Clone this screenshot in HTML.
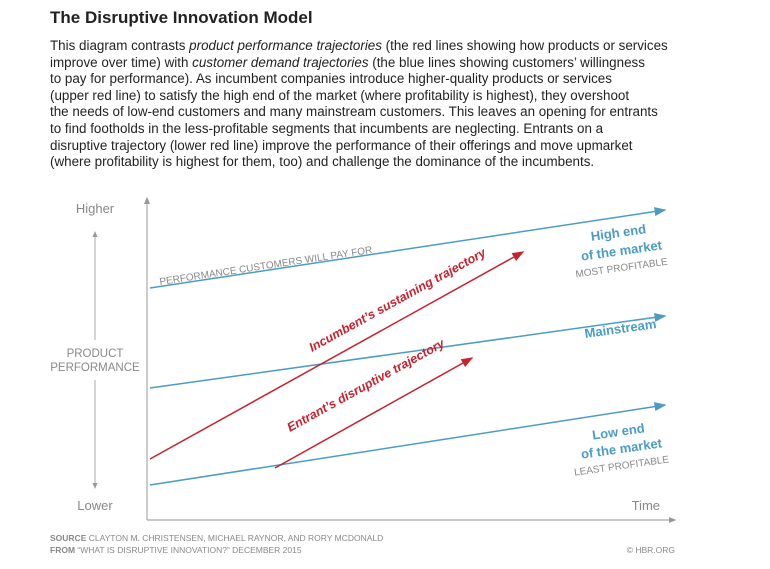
<!DOCTYPE html>
<html><head><meta charset="utf-8"><style>
body{margin:0;width:770px;height:569px;background:#fff;overflow:hidden;font-family:"Liberation Sans",sans-serif;}
h1{position:absolute;left:50px;top:8px;margin:0;font-size:17px;font-weight:bold;color:#222;}
p{position:absolute;left:50px;top:38px;margin:0;font-size:13.4px;line-height:16.6px;color:#222;white-space:nowrap;}
svg{position:absolute;left:0;top:0}
</style></head><body>
<h1>The Disruptive Innovation Model</h1>
<p>This diagram contrasts <i>product performance trajectories</i> (the red lines showing how products or services<br>improve over time) with <i>customer demand trajectories</i> (the blue lines showing customers’ willingness<br>to pay for performance). As incumbent companies introduce higher-quality products or services<br>(upper red line) to satisfy the high end of the market (where profitability is highest), they overshoot<br>the needs of low-end customers and many mainstream customers. This leaves an opening for entrants<br>to find footholds in the less-profitable segments that incumbents are neglecting. Entrants on a<br>disruptive trajectory (lower red line) improve the performance of their offerings and move upmarket<br>(where profitability is highest for them, too) and challenge the dominance of the incumbents.</p>
<svg width="770" height="569" font-family="Liberation Sans, sans-serif">
<defs>
<marker id="b" markerWidth="8" markerHeight="6" refX="7" refY="3" orient="auto"><path d="M0,0L8,3L0,6z" fill="#4a9cc4"/></marker>
<marker id="r" markerWidth="8" markerHeight="6" refX="7" refY="3" orient="auto"><path d="M0,0L8,3L0,6z" fill="#c8202c"/></marker>
<marker id="g" markerWidth="6" markerHeight="5" refX="5" refY="2.5" orient="auto"><path d="M0,0L6,2.5L0,5z" fill="#999"/></marker>
</defs>
<line x1="147" y1="520" x2="147" y2="198" stroke="#aaa" stroke-width="1.2" marker-end="url(#g)"/>
<line x1="147" y1="520" x2="675" y2="520" stroke="#aaa" stroke-width="1.2" marker-end="url(#g)"/>
<line x1="95" y1="340" x2="95" y2="232" stroke="#aaa" marker-end="url(#g)"/>
<line x1="95" y1="380" x2="95" y2="488" stroke="#aaa" marker-end="url(#g)"/>
<text x="95" y="213" font-size="13" fill="#888" text-anchor="middle">Higher</text>
<text x="95" y="510" font-size="13" fill="#888" text-anchor="middle">Lower</text>
<text x="95" y="357" font-size="11.5" fill="#888" text-anchor="middle">PRODUCT</text>
<text x="95" y="371" font-size="11.5" fill="#888" text-anchor="middle">PERFORMANCE</text>
<text x="660" y="510" font-size="13" fill="#888" text-anchor="end">Time</text>
<line x1="150" y1="288" x2="665" y2="210" stroke="#4a9cc4" stroke-width="1.5" marker-end="url(#b)"/>
<line x1="150" y1="388" x2="665" y2="316" stroke="#4a9cc4" stroke-width="1.5" marker-end="url(#b)"/>
<line x1="150" y1="485" x2="665" y2="405" stroke="#4a9cc4" stroke-width="1.5" marker-end="url(#b)"/>
<line x1="150" y1="459" x2="523" y2="252" stroke="#c8202c" stroke-width="1.5" marker-end="url(#r)"/>
<line x1="275" y1="468" x2="472" y2="358" stroke="#c8202c" stroke-width="1.5" marker-end="url(#r)"/>
<text transform="translate(160,285) rotate(-8.6)" font-size="10" fill="#888">PERFORMANCE CUSTOMERS WILL PAY FOR</text>
<text transform="translate(312,352) rotate(-29)" font-size="12.5" font-weight="bold" font-style="italic" fill="#c8202c">Incumbent’s sustaining trajectory</text>
<text transform="translate(290,432) rotate(-29)" font-size="12.5" font-weight="bold" font-style="italic" fill="#c8202c">Entrant’s disruptive trajectory</text>
<g fill="#4a9cc4" font-weight="bold" font-size="13" text-anchor="middle">
<text transform="translate(619,237) rotate(-8)">High end</text>
<text transform="translate(622,255) rotate(-8)">of the market</text>
<text transform="translate(621,333) rotate(-8)">Mainstream</text>
<text transform="translate(619,436) rotate(-8)">Low end</text>
<text transform="translate(622,453) rotate(-8)">of the market</text>
</g>
<text transform="translate(622,271) rotate(-8)" font-size="10" fill="#888" text-anchor="middle">MOST PROFITABLE</text>
<text transform="translate(622,469) rotate(-8)" font-size="10" fill="#888" text-anchor="middle">LEAST PROFITABLE</text>
<g font-size="8.5" fill="#888">
<text x="50" y="541"><tspan font-weight="bold">SOURCE</tspan>  CLAYTON M. CHRISTENSEN, MICHAEL RAYNOR, AND RORY MCDONALD</text>
<text x="50" y="553"><tspan font-weight="bold">FROM</tspan>  “WHAT IS DISRUPTIVE INNOVATION?” DECEMBER 2015</text>
<text x="675" y="553" text-anchor="end">© HBR.ORG</text>
</g>
</svg>
</body></html>
